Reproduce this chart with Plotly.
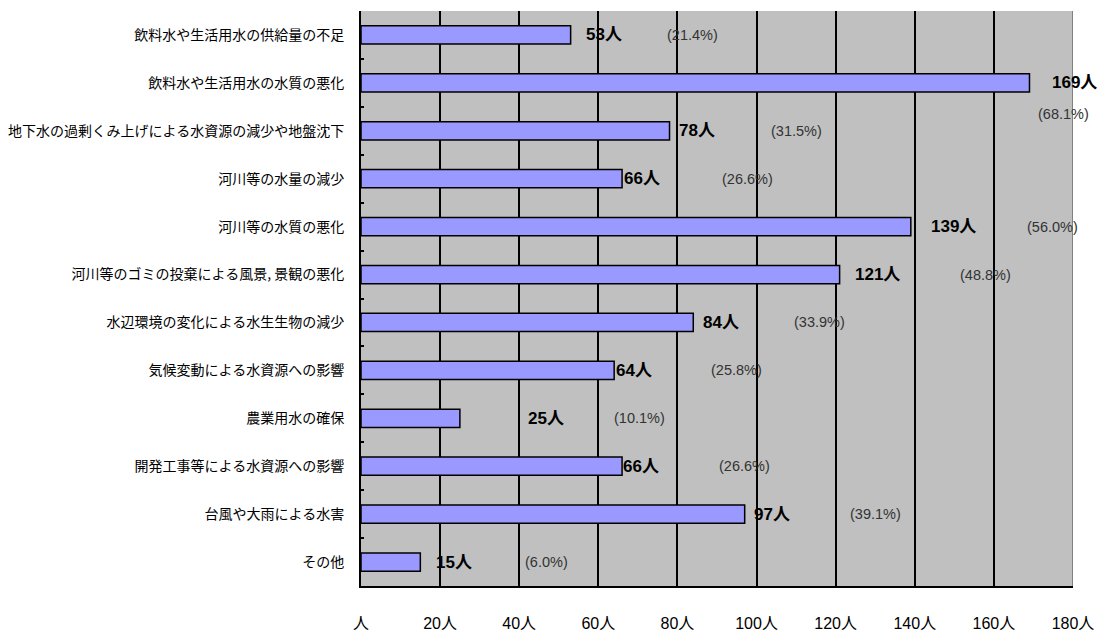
import plotly.graph_objects as go

categories = [
    "飲料水や生活用水の供給量の不足",
    "飲料水や生活用水の水質の悪化",
    "地下水の過剰くみ上げによる水資源の減少や地盤沈下",
    "河川等の水量の減少",
    "河川等の水質の悪化",
    "河川等のゴミの投棄による風景, 景観の悪化",
    "水辺環境の変化による水生生物の減少",
    "気候変動による水資源への影響",
    "農業用水の確保",
    "開発工事等による水資源への影響",
    "台風や大雨による水害",
    "その他",
]
counts = [53, 169, 78, 66, 139, 121, 84, 64, 25, 66, 97, 15]
percents = ["21.4", "68.1", "31.5", "26.6", "56.0", "48.8", "33.9", "25.8", "10.1", "26.6", "39.1", "6.0"]
tick_vals = [0, 20, 40, 60, 80, 100, 120, 140, 160, 180]
tick_text = ["人", "20人", "40人", "60人", "80人", "100人", "120人", "140人", "160人", "180人"]

# label placement (layout only, in axis units)
count_label_x = [61.4, 180.5, 85, 71, 149.7, 130.7, 91, 69, 46.8, 70.8, 104, 23.5]
pct_label_x = [83.7, 177.5, 110, 97.6, 174.7, 157.8, 116, 95, 70.5, 97, 130, 46.8]
pct_below = [False, True] + [False] * 10

X_MAX = 180
font_lat = "Liberation Sans, Arial, Noto Sans CJK JP"
font_jp = "Noto Sans CJK JP"

fig = go.Figure()
fig.add_trace(go.Bar(
    x=counts, y=categories, orientation="h",
    marker=dict(color="#9999FF", line=dict(color="black", width=1.5)),
    width=0.38, hoverinfo="skip",
))

n = len(categories)
ann = []
for i, (c, p) in enumerate(zip(counts, percents)):
    yp = 1 - (i + 0.5) / n
    ann.append(dict(x=count_label_x[i] / X_MAX, y=yp, xref="paper", yref="paper",
                    xanchor="center", yanchor="middle",
                    text=f"<b>{c}人</b>", showarrow=False,
                    font=dict(size=17, color="black", family=font_lat)))
    ann.append(dict(x=pct_label_x[i] / X_MAX, y=yp, xref="paper", yref="paper",
                    xanchor="center", yanchor="middle",
                    yshift=-31 if pct_below[i] else 0,
                    text=f"({p}%)", showarrow=False,
                    font=dict(size=14.5, color="#333", family=font_lat)))

fig.update_layout(
    width=1097, height=626,
    margin=dict(l=353, r=32, t=3, b=48),
    paper_bgcolor="white", plot_bgcolor="#C0C0C0",
    showlegend=False, annotations=ann,
    font=dict(family=font_jp, color="black"),
    shapes=[dict(type="line", xref="x", yref="paper", x0=X_MAX, x1=X_MAX, y0=0, y1=1,
                 line=dict(color="#808080", width=2))],
)
fig.update_xaxes(
    range=[0, X_MAX], tickvals=tick_vals, ticktext=tick_text,
    showgrid=True, gridcolor="black", gridwidth=1.5,
    showline=True, linecolor="black", linewidth=2,
    ticks="", ticklabelstandoff=22, zeroline=False, automargin=False,
    tickfont=dict(size=16, family=font_lat, color="black"),
)
fig.update_yaxes(
    autorange="reversed", showgrid=False,
    showline=True, linecolor="black", linewidth=2,
    ticks="inside", tickson="boundaries", ticklen=3, tickwidth=1.5, tickcolor="black",
    ticklabelstandoff=12, automargin=False,
    tickfont=dict(size=14, family=font_jp, color="black"),
)

fig.write_html("out.html")
